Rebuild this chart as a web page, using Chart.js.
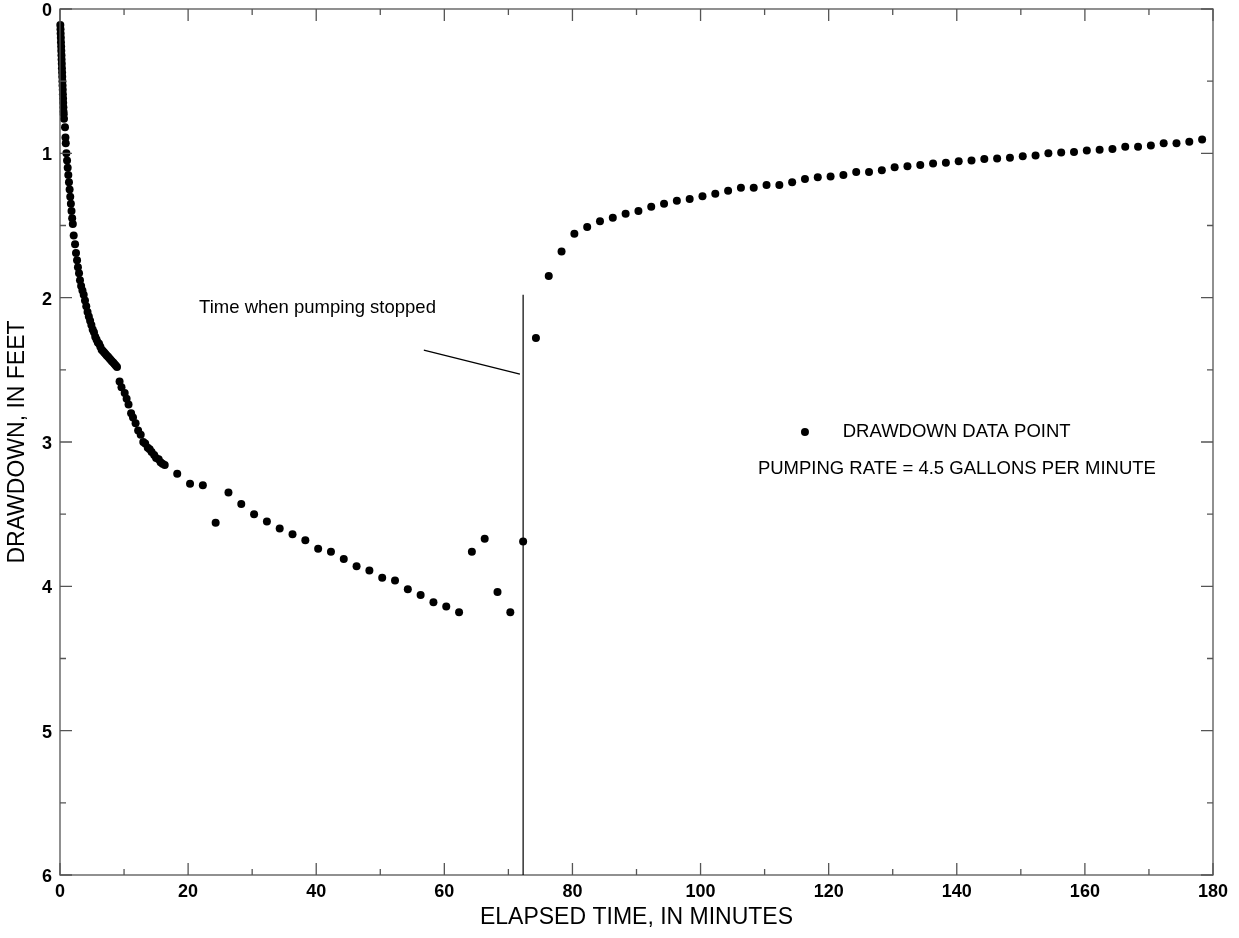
<!DOCTYPE html>
<html>
<head>
<meta charset="utf-8">
<script src="https://cdn.jsdelivr.net/npm/chart.js@4/dist/chart.umd.min.js"></script>
<style>
  body { margin: 0; background: #fff; }
  #wrap { width: 1239px; height: 938px; position: relative; }
</style>
</head>
<body>
<div id="wrap"><canvas id="graficoAbatimiento"></canvas></div>
<script>
// tiempos (min) y abatimientos (ft) durante el bombeo
const tiemposBombeo = [
  0.05, 0.08, 0.1, 0.13, 0.15, 0.18, 0.2, 0.23, 0.25, 0.28, 0.3, 0.33, 0.35, 0.38, 0.4, 0.43, 0.45, 0.48, 0.5, 0.53, 0.55, 0.58, 0.62,
  0.78, 0.85, 0.9, 1.0, 1.1, 1.2, 1.3, 1.4, 1.5, 1.6, 1.7, 1.8, 1.9, 2.0, 2.14, 2.35, 2.5, 2.66, 2.8, 2.97, 3.12,
  3.3, 3.5, 3.7, 3.9, 4.1, 4.3, 4.5, 4.7, 4.9, 5.1, 5.3, 5.5, 5.7, 5.9, 6.1, 6.3, 6.5, 6.7, 6.9, 7.1, 7.3, 7.5, 7.7, 7.9, 8.1, 8.3, 8.5, 8.7, 8.9,
  9.3, 9.6, 10.1, 10.4, 10.7, 11.1, 11.4, 11.8, 12.2, 12.6, 13.0, 13.3, 13.7, 14.0, 14.3, 14.7, 15.0, 15.4, 15.7, 16.0, 16.35,
  18.3, 20.3, 22.3, 24.3, 26.3, 28.3, 30.3, 32.3, 34.3, 36.3, 38.3, 40.3, 42.3, 44.3, 46.3, 48.3, 50.3, 52.3, 54.3, 56.3, 58.3, 60.3, 62.3,
  64.3, 66.3, 68.3, 70.3, 72.3
];
const abatimientoBombeo = [
  0.11, 0.14, 0.17, 0.2, 0.23, 0.26, 0.29, 0.32, 0.35, 0.38, 0.41, 0.44, 0.47, 0.5, 0.53, 0.56, 0.59, 0.62, 0.65, 0.68, 0.71, 0.73, 0.76,
  0.82, 0.89, 0.93, 1.0, 1.05, 1.1, 1.15, 1.2, 1.25, 1.3, 1.35, 1.4, 1.45, 1.49, 1.57, 1.63, 1.69, 1.74, 1.79, 1.83, 1.88,
  1.92, 1.95, 1.98, 2.02, 2.06, 2.1, 2.13, 2.16, 2.19, 2.22, 2.24, 2.27, 2.29, 2.31, 2.32, 2.34, 2.36, 2.37, 2.38, 2.39, 2.40, 2.41, 2.42, 2.43, 2.44, 2.45, 2.46, 2.47, 2.48,
  2.58, 2.62, 2.66, 2.70, 2.74, 2.80, 2.83, 2.87, 2.92, 2.95, 3.0, 3.01, 3.04, 3.05, 3.07, 3.09, 3.11, 3.12, 3.14, 3.15, 3.16,
  3.22, 3.29, 3.30, 3.56, 3.35, 3.43, 3.50, 3.55, 3.60, 3.64, 3.68, 3.74, 3.76, 3.81, 3.86, 3.89, 3.94, 3.96, 4.02, 4.06, 4.11, 4.14, 4.18,
  3.76, 3.67, 4.04, 4.18, 3.69
];
// recuperacion despues de parar la bomba
const tiemposRecuperacion = [
  74.3, 76.3, 78.3, 80.3, 82.3, 84.3, 86.3, 88.3, 90.3, 92.3, 94.3, 96.3, 98.3, 100.3, 102.3, 104.3, 106.3, 108.3, 110.3,
  112.3, 114.3, 116.3, 118.3, 120.3, 122.3, 124.3, 126.3, 128.3, 130.3, 132.3, 134.3, 136.3, 138.3, 140.3, 142.3, 144.3,
  146.3, 148.3, 150.3, 152.3, 154.3, 156.3, 158.3, 160.3, 162.3, 164.3, 166.3, 168.3, 170.3, 172.3, 174.3, 176.3, 178.3
];
const abatimientoRecuperacion = [
  2.28, 1.85, 1.68, 1.557, 1.51, 1.47, 1.446, 1.418, 1.40, 1.37, 1.35, 1.328, 1.317, 1.298, 1.28, 1.26, 1.238, 1.238, 1.22,
  1.22, 1.20, 1.178, 1.166, 1.16, 1.15, 1.13, 1.13, 1.118, 1.097, 1.09, 1.08, 1.07, 1.065, 1.055, 1.05, 1.04,
  1.035, 1.03, 1.02, 1.015, 1.0, 0.995, 0.99, 0.98, 0.975, 0.97, 0.955, 0.955, 0.945, 0.93, 0.93, 0.92, 0.905
];
const tiempoParada = 72.3;
const etiquetaParada = "Time when pumping stopped";
const textoLeyenda = "DRAWDOWN DATA POINT";
const textoCaudal = "PUMPING RATE = 4.5 GALLONS PER MINUTE";

const fuente = '"Liberation Sans", Arial, Helvetica, sans-serif';

const puntos = [];
tiemposBombeo.forEach((t, i) => puntos.push({ x: t, y: abatimientoBombeo[i] }));
tiemposRecuperacion.forEach((t, i) => puntos.push({ x: t, y: abatimientoRecuperacion[i] }));

// marco, marcas hacia adentro y anotaciones
const pluginMarco = {
  id: "marco",
  afterDatasetsDraw(chart) {
    const ctx = chart.ctx;
    const xs = chart.scales.x, ys = chart.scales.y;
    const a = chart.chartArea;
    ctx.save();
    ctx.lineWidth = 1.3;
    ctx.strokeStyle = "#555";
    ctx.strokeRect(a.left, a.top, a.right - a.left, a.bottom - a.top);
    ctx.beginPath();
    for (let v = 0; v <= 180; v += 10) {
      const px = xs.getPixelForValue(v);
      const len = v % 20 === 0 ? 12 : 6;
      ctx.moveTo(px, a.bottom); ctx.lineTo(px, a.bottom - len);
      ctx.moveTo(px, a.top); ctx.lineTo(px, a.top + len);
    }
    for (let v = 0; v <= 6; v += 0.5) {
      const py = ys.getPixelForValue(v);
      const len = v % 1 === 0 ? 12 : 6;
      ctx.moveTo(a.left, py); ctx.lineTo(a.left + len, py);
      ctx.moveTo(a.right, py); ctx.lineTo(a.right - len, py);
    }
    ctx.stroke();

    // linea de parada del bombeo
    ctx.strokeStyle = "#000";
    ctx.lineWidth = 1.2;
    ctx.beginPath();
    const xp = xs.getPixelForValue(tiempoParada);
    ctx.moveTo(xp, ys.getPixelForValue(1.98));
    ctx.lineTo(xp, ys.getPixelForValue(6));
    ctx.moveTo(xs.getPixelForValue(56.8), ys.getPixelForValue(2.363));
    ctx.lineTo(xs.getPixelForValue(71.8), ys.getPixelForValue(2.53));
    ctx.stroke();

    ctx.fillStyle = "#000";
    ctx.font = "18.5px " + fuente;
    ctx.textBaseline = "middle";
    ctx.textAlign = "center";
    ctx.fillText(etiquetaParada, xs.getPixelForValue(40.2), ys.getPixelForValue(2.07));

    // leyenda
    ctx.beginPath();
    ctx.arc(xs.getPixelForValue(116.3), ys.getPixelForValue(2.93), 4, 0, Math.PI * 2);
    ctx.fill();
    ctx.textAlign = "left";
    ctx.fillText(textoLeyenda, xs.getPixelForValue(122.2), ys.getPixelForValue(2.93));
    ctx.fillText(textoCaudal, xs.getPixelForValue(108.95), ys.getPixelForValue(3.185));
    ctx.restore();
  }
};

const contexto = document.getElementById("graficoAbatimiento").getContext("2d");
new Chart(contexto, {
  type: "scatter",
  data: {
    datasets: [{
      label: textoLeyenda,
      data: puntos,
      pointRadius: 4,
      pointHoverRadius: 4,
      pointBackgroundColor: "#000",
      pointBorderWidth: 0,
      clip: false
    }]
  },
  options: {
    responsive: true,
    maintainAspectRatio: false,
    animation: false,
    layout: { padding: { top: 0, right: 26, left: 0, bottom: 0 } },
    plugins: { legend: { display: false }, tooltip: { enabled: false } },
    scales: {
      x: {
        type: "linear",
        min: 0, max: 180,
        grid: { display: false, drawTicks: false, tickLength: 0 },
        border: { display: false },
        ticks: { stepSize: 20, padding: 6, color: "#000", font: { family: fuente, size: 18, weight: "bold" } },
        title: { display: true, text: "ELAPSED TIME, IN MINUTES", color: "#000", padding: { top: 0, bottom: 7 }, font: { family: fuente, size: 23 } },
        afterFit: s => { s.height = 63; s.paddingLeft = 0; s.paddingRight = 0; }
      },
      y: {
        type: "linear",
        reverse: true,
        min: 0, max: 6,
        grid: { display: false, drawTicks: false, tickLength: 0 },
        border: { display: false },
        ticks: { stepSize: 1, padding: 8, labelOffset: 2, color: "#000", font: { family: fuente, size: 18, weight: "bold" } },
        title: { display: true, text: "DRAWDOWN, IN FEET", color: "#000", padding: { top: 4, bottom: 0 }, font: { family: fuente, size: 23 } },
        afterFit: s => { s.width = 60; s.paddingTop = 9; s.paddingBottom = 0; }
      }
    }
  },
  plugins: [pluginMarco]
});
</script>
</body>
</html>
